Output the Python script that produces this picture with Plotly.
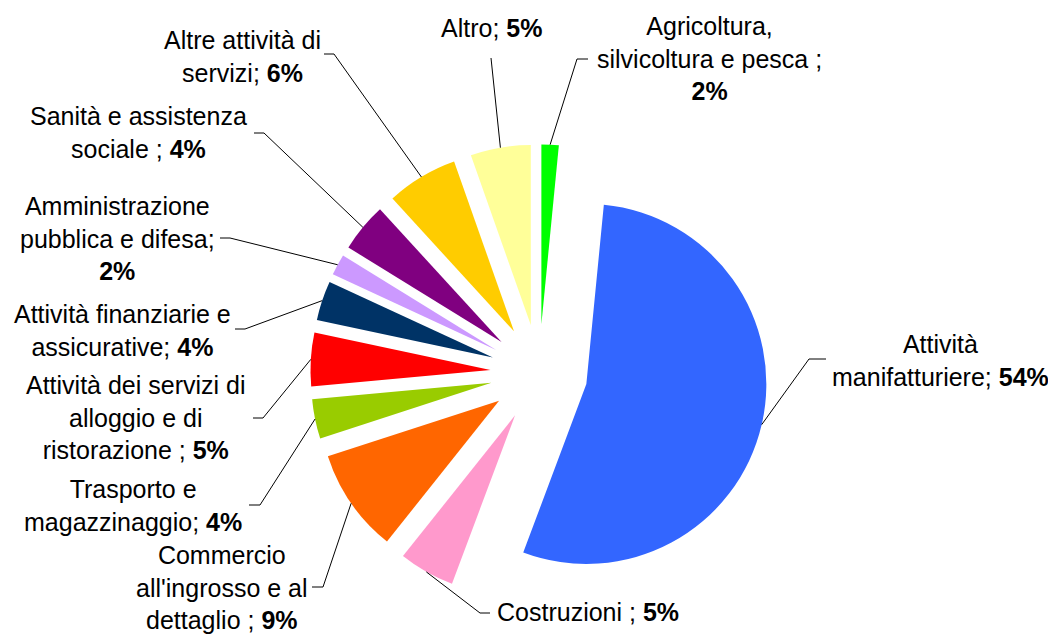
import math
import plotly.graph_objects as go

# ---------------- data ----------------
categories = [
    "Agricoltura, silvicoltura e pesca ",
    "Attività manifatturiere",
    "Costruzioni ",
    "Commercio all'ingrosso e al dettaglio ",
    "Trasporto e magazzinaggio",
    "Attività dei servizi di alloggio e di ristorazione ",
    "Attività finanziarie e assicurative",
    "Amministrazione pubblica e difesa",
    "Sanità e assistenza sociale ",
    "Altre attività di servizi",
    "Altro",
]
values = [1.55, 54.15, 5.0, 9.3, 3.55, 4.8, 3.55, 1.9, 4.4, 6.4, 5.4]
colors = ["#00FF00", "#3366FF", "#FF99CC", "#FF6600", "#99CC00", "#FF0000",
          "#003366", "#CC99FF", "#800080", "#FFCC00", "#FFFF99"]
# label text layout (line breaks), percentage inserted from values
label_templates = [
    "Agricoltura,<br>silvicoltura e pesca ;<br><b>{p}%</b>",
    "Attività<br>manifatturiere; <b>{p}%</b>",
    "Costruzioni ; <b>{p}%</b>",
    "Commercio<br>all'ingrosso e al<br>dettaglio ; <b>{p}%</b>",
    "Trasporto e<br>magazzinaggio; <b>{p}%</b>",
    "Attività dei servizi di<br>alloggio e di<br>ristorazione ; <b>{p}%</b>",
    "Attività finanziarie e<br>assicurative; <b>{p}%</b>",
    "Amministrazione<br>pubblica e difesa;<br><b>{p}%</b>",
    "Sanità e assistenza<br>sociale ; <b>{p}%</b>",
    "Altre attività di<br>servizi; <b>{p}%</b>",
    "Altro; <b>{p}%</b>",
]

# ---------------- styling / layout ----------------
# page has an 8px body margin, so the figure is drawn 8px smaller and all
# screen-pixel positions below are shifted by OFF when converted
OFF = 8
W, H = 1056 - OFF, 634 - OFF
CX, CY = 539, 373        # pie centre (screen px)
R = 180                  # pie radius
PULL = 0.27              # explode fraction
FONT = dict(family="Liberation Sans, Arial, sans-serif", size=25, color="black")

# label centres (screen px)
label_pos = [(709, 58), (940, 360), (588, 612), (222, 587), (133, 505),
             (136, 417), (122, 330), (117, 238), (138, 133), (242, 56), (491, 28)]
# leader line: point at label edge and horizontal stub length (+ toward right)
leader_edge = [(588, 59, -11), (826, 359, -17), (490, 613, -10), (312, 587, 11),
               (249, 505, 11), (253, 418, 10), (235, 329, 10), (220, 238, 10),
               (254, 133, 10), (324, 54, 10), (491, 58, 0)]


def px(x):
    return (x - OFF) / W


def py(y):
    return 1 - (y - OFF) / H


half = R * (1 + PULL)
domain_x = [px(CX - half - 10), px(CX + half + 10)]
domain_y = [py(CY + half), py(CY - half)]

fig = go.Figure(go.Pie(
    labels=categories,
    values=values,
    marker=dict(colors=colors, line=dict(width=0)),
    pull=[PULL] * len(values),
    sort=False,
    direction="clockwise",
    rotation=0,
    textinfo="none",
    hoverinfo="label+percent",
    showlegend=False,
    domain=dict(x=domain_x, y=domain_y),
))

total = sum(values)
cum = 0.0
annotations = []
shapes = []
for i, v in enumerate(values):
    mid = (cum + v / 2) / total
    cum += v
    th = 2 * math.pi * mid
    dx, dy = math.sin(th), -math.cos(th)
    tipx, tipy = CX + PULL * R * dx, CY + PULL * R * dy
    ax, ay = tipx + R * dx, tipy + R * dy
    pct = int(v / total * 100 + 0.5)
    lx, ly = label_pos[i]
    annotations.append(dict(
        x=px(lx), y=py(ly), xref="paper", yref="paper",
        text=label_templates[i].format(p=pct),
        showarrow=False, xanchor="center", yanchor="middle",
        align="center", font=FONT,
    ))
    ex, ey, stub = leader_edge[i]
    path = f"M {px(ex)},{py(ey)} L {px(ex + stub)},{py(ey)} L {px(ax)},{py(ay)}"
    shapes.append(dict(type="path", xref="paper", yref="paper", path=path,
                       line=dict(color="black", width=1)))

fig.update_layout(
    width=W, height=H,
    margin=dict(l=0, r=0, t=0, b=0),
    paper_bgcolor="white", plot_bgcolor="white",
    annotations=annotations,
    shapes=shapes,
)

fig.write_html("out.html")
